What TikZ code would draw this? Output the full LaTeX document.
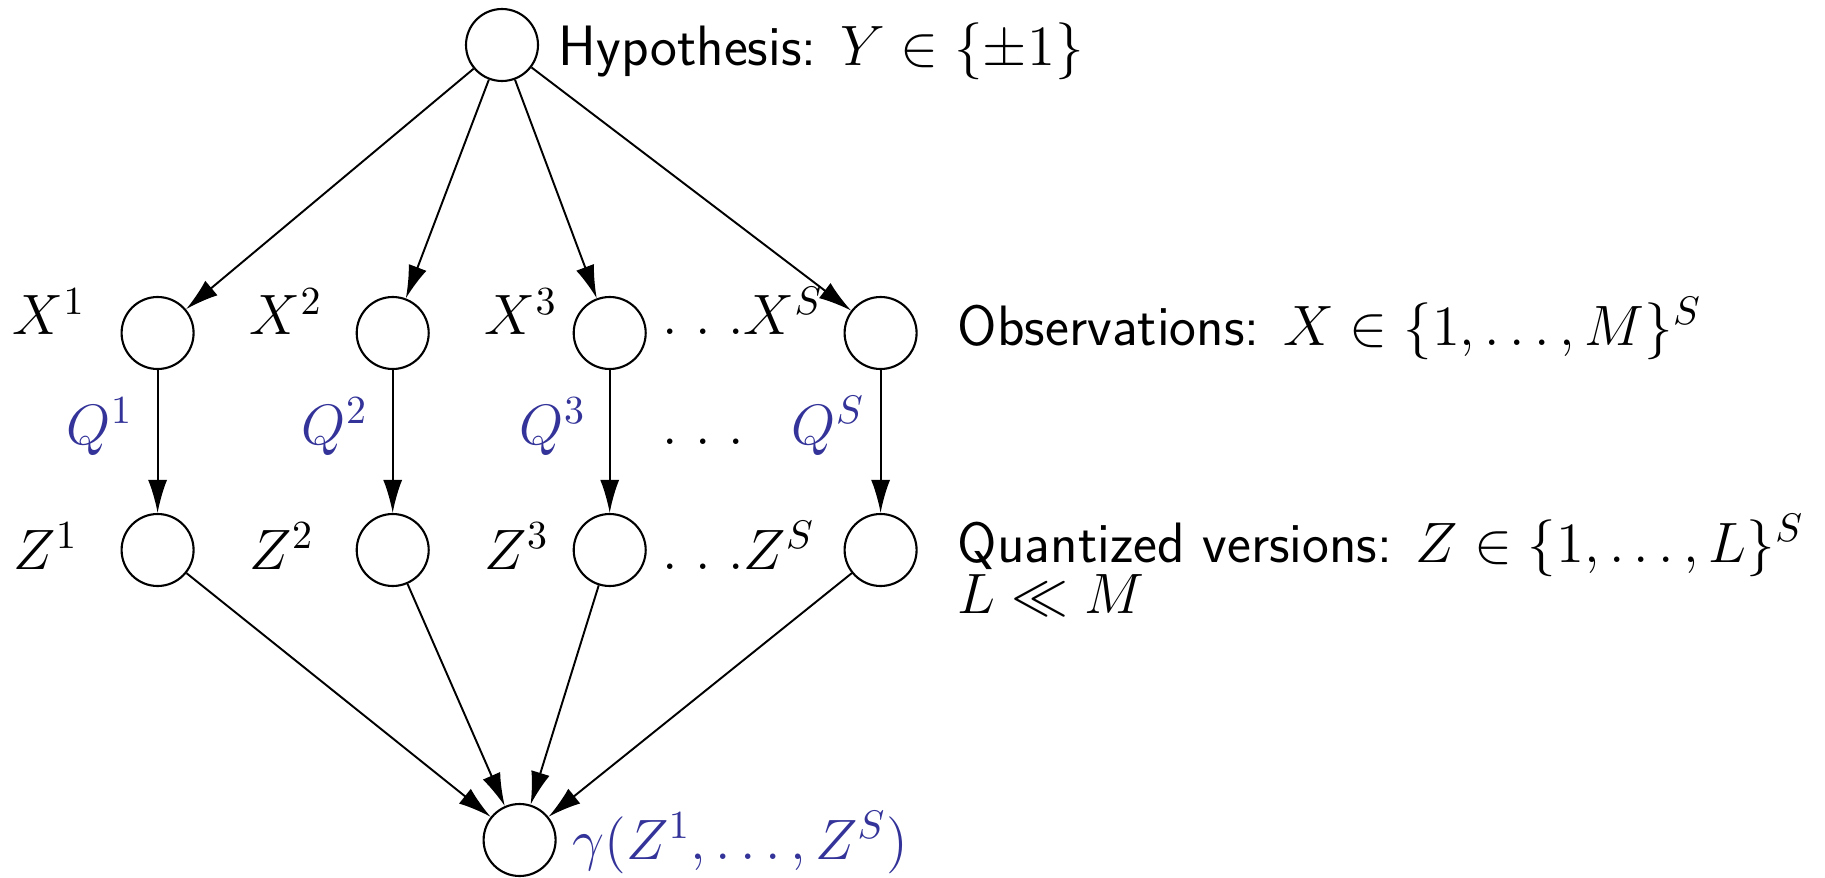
\documentclass[tikz,border=0pt]{standalone}
\usepackage{fix-cm}
\usetikzlibrary{arrows.meta}
\definecolor{qblue}{rgb}{0.2,0.2,0.6}
\tikzset{
  var/.style={circle,draw,line width=0.6pt,minimum size=0.72cm,inner sep=0pt},
  lbl/.style={anchor=base west,inner sep=0pt,font=\fontsize{16.2}{19}\selectfont},
  qlbl/.style={lbl,text=qblue},
}
\begin{document}
\begin{tikzpicture}[>={Latex[length=3.3mm,width=1.9mm]},line width=0.55pt]
\useasboundingbox (0,0) rectangle (18.25,8.77);
\node[var](y) at (5.02,8.32){};
\node[var](g) at (5.196,0.37){};
\foreach \n/\xx in {1/1.576,2/3.927,3/6.097,s/8.806}{
  \node[var](x\n) at (\xx,5.44){};
  \node[var](z\n) at (\xx,3.27){};
  \draw[->](y)--(x\n);
  \draw[->](x\n)--(z\n);
  \draw[->](z\n)--(g);
}
\node[lbl](hyp) at (5.58,8.11){\sffamily Hypothesis: $Y\in\{\pm1\}$};
\node[lbl](lx1) at (0.12,5.42){$X^1$};
\node[lbl](lx2) at (2.49,5.42){$X^2$};
\node[lbl](lx3) at (4.84,5.42){$X^3$};
\node[lbl](lxs) at (6.62,5.42){$.\ .\ .X^S$};
\node[lbl](obs) at (9.57,5.32){\sffamily Observations: $X\in\{1,\ldots,M\}^S$};
\node[qlbl](q1) at (0.66,4.33){$Q^1$};
\node[qlbl](q2) at (3.01,4.33){$Q^2$};
\node[qlbl](q3) at (5.19,4.33){$Q^3$};
\node[lbl](qd) at (6.62,4.33){$.\ .\ .$};
\node[qlbl](qs) at (7.91,4.33){$Q^S$};
\node[lbl](lz1) at (0.13,3.08){$Z^1$};
\node[lbl](lz2) at (2.49,3.08){$Z^2$};
\node[lbl](lz3) at (4.84,3.08){$Z^3$};
\node[lbl](lzs) at (6.62,3.08){$.\ .\ .Z^S$};
\node[lbl](qnt) at (9.57,3.15){\sffamily Quantized versions: $Z\in\{1,\ldots,L\}^S$};
\node[lbl](lm) at (9.57,2.64){$L\ll M$};
\node[qlbl](gam) at (5.72,0.18){$\gamma(Z^1,\ldots,Z^S)$};
\end{tikzpicture}
\end{document}
